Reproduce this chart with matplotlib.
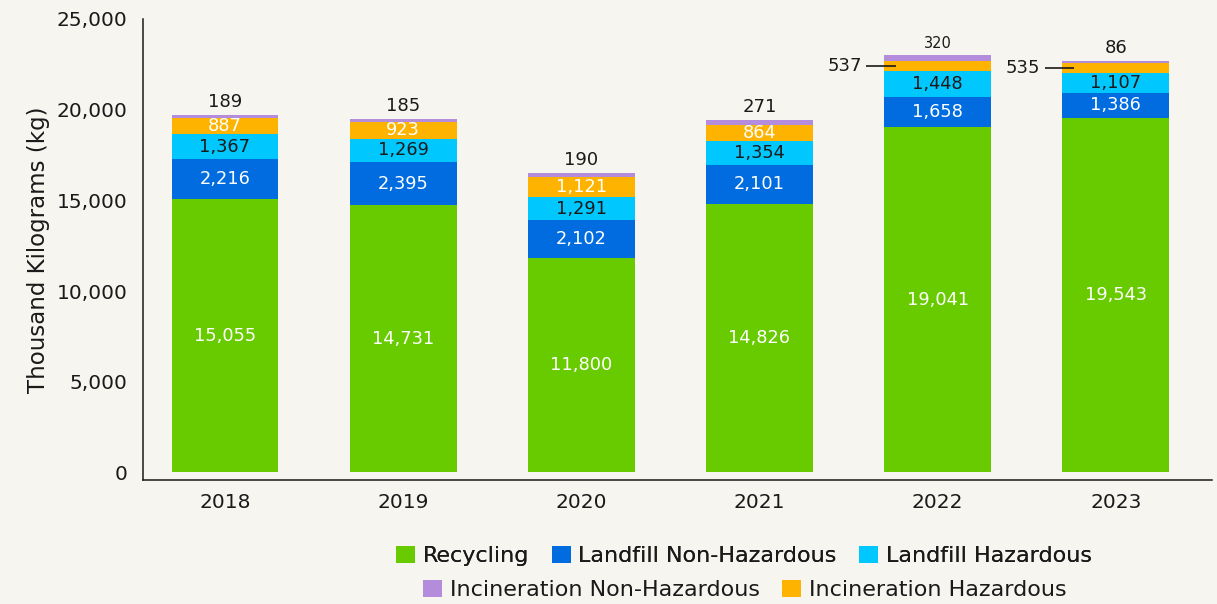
import matplotlib.pyplot as plt
from matplotlib.patches import Patch
import numpy as np

plt.rcParams["font.family"] = ["DejaVu Sans"]

years = ["2018", "2019", "2020", "2021", "2022", "2023"]
recycling = [15055, 14731, 11800, 14826, 19041, 19543]
landfill_non_haz = [2216, 2395, 2102, 2101, 1658, 1386]
landfill_haz = [1367, 1269, 1291, 1354, 1448, 1107]
incin_haz = [887, 923, 1121, 864, 537, 535]
incin_non_haz = [189, 185, 190, 271, 320, 86]

BG = "#F7F5F0"
INK = "#1A1A1A"
C_REC = "#68CB00"
C_LNH = "#006CDF"
C_LH = "#00C7FD"
C_INH = "#B38CDB"
C_IH = "#FDB300"

fig = plt.figure(figsize=(12.17, 6.04), dpi=100, facecolor=BG)
ax = fig.add_axes([143 / 1217, 1 - 480 / 604, (1212 - 143) / 1217, (480 - 19) / 604])
ax.set_facecolor(BG)

x = np.arange(len(years))
w = 0.6
FS_IN = 12.8

# stacked segments, bottom to top
stack = [
    (recycling, C_REC, "white"),
    (landfill_non_haz, C_LNH, "white"),
    (landfill_haz, C_LH, INK),
    (incin_haz, C_IH, "white"),
    (incin_non_haz, C_INH, None),
]
bottom = np.zeros(len(years))
for vals, col, tcol in stack:
    vals = np.array(vals, dtype=float)
    ax.bar(x, vals, w, bottom=bottom, color=col, linewidth=0)
    mids = bottom + vals / 2
    if col == C_IH:
        for i, (v, m) in enumerate(zip(vals, mids)):
            if v > 600:
                ax.text(x[i], m, f"{int(v):,}", ha="center", va="center",
                        fontsize=FS_IN, color=tcol)
            else:
                # thin segment: label sits left of the bar with a leader line
                ax.plot([x[i] - 0.40, x[i] - 0.235], [m, m], color=INK, lw=1.2,
                        solid_capstyle="butt", zorder=3)
                ax.text(x[i] - 0.425, m, f"{int(v):,}", ha="right", va="center",
                        fontsize=13, color=INK)
    elif tcol is not None:
        for i, (v, m) in enumerate(zip(vals, mids)):
            ax.text(x[i], m, f"{int(v):,}", ha="center", va="center",
                    fontsize=FS_IN, color=tcol)
    bottom = bottom + vals

# top (incineration non-hazardous) labels above each bar
for i, v in enumerate(incin_non_haz):
    fs = 10.5 if i == 4 else 13
    ax.annotate(f"{v:,}", (x[i], bottom[i]), xytext=(0, 3),
                textcoords="offset points", ha="center", va="bottom",
                fontsize=fs, color=INK)

ax.set_xlim(-0.46, 5.54)
ax.set_ylim(-420, 25000)
ax.set_xticks(x)
ax.set_xticklabels(years)
yt = [0, 5000, 10000, 15000, 20000, 25000]
ax.set_yticks(yt)
ax.set_yticklabels([f"{v:,}" for v in yt])
ax.tick_params(axis="both", length=0, labelsize=14.5, colors=INK)
ax.tick_params(axis="y", pad=11)
ax.tick_params(axis="x", pad=9)
for s in ["top", "right"]:
    ax.spines[s].set_visible(False)
for s in ["left", "bottom"]:
    ax.spines[s].set_color(INK)
    ax.spines[s].set_linewidth(1.1)

ax.set_ylabel("Thousand Kilograms (kg)", fontsize=16.5, color=INK, labelpad=5)

handles = [
    Patch(facecolor=C_REC, label="Recycling"),
    Patch(facecolor=C_LNH, label="Landfill Non-Hazardous"),
    Patch(facecolor=C_LH, label="Landfill Hazardous"),
    Patch(facecolor=C_INH, label="Incineration Non-Hazardous"),
    Patch(facecolor=C_IH, label="Incineration Hazardous"),
]
leg_kw = dict(frameon=False, fontsize=16, handlelength=0.85, handleheight=0.85,
              handletextpad=0.35, columnspacing=1.0, loc="center",
              borderpad=0, borderaxespad=0)
leg1 = fig.legend(handles=handles[:3], ncol=3,
                  bbox_to_anchor=(744 / 1217, 1 - 556 / 604), **leg_kw)
for t in leg1.get_texts():
    t.set_color(INK)
leg2 = fig.legend(handles=handles[3:], ncol=2,
                  bbox_to_anchor=(745 / 1217, 1 - 590 / 604), **leg_kw)
for t in leg2.get_texts():
    t.set_color(INK)
fig.add_artist(leg1)

fig.savefig("out.png", dpi=100, facecolor=BG)
